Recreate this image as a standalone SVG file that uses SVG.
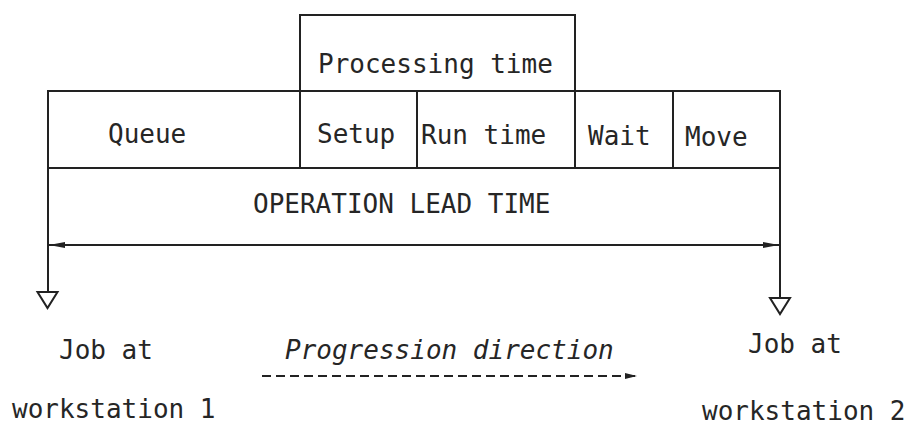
<svg xmlns="http://www.w3.org/2000/svg" width="915" height="427" viewBox="0 0 915 427">
<style>
.ln{stroke:#222;stroke-width:2;fill:none}
.tri{stroke:#222;stroke-width:2;fill:#fff}
.t{font-family:"DejaVu Sans Mono","Liberation Mono",monospace;font-size:26px;fill:#262626}
.it{font-style:italic}
</style>
<defs>
<marker id="ah" viewBox="0 0 16 8" refX="16" refY="4" markerWidth="16" markerHeight="8" markerUnits="userSpaceOnUse" orient="auto">
<path d="M0,1 L16,4 L0,7 Z" fill="#222"/>
</marker>
<marker id="ah2" viewBox="0 0 12 8" refX="12" refY="4" markerWidth="12" markerHeight="8" markerUnits="userSpaceOnUse" orient="auto">
<path d="M0,1 L12,4 L0,7 Z" fill="#222"/>
</marker>
</defs>
<rect width="915" height="427" fill="#fff"/>
<g id="processing">
<rect class="ln" x="300" y="15" width="275" height="76"/>
<text class="t" x="318" y="73">Processing time</text>
</g>
<g id="queue">
<rect class="ln" x="48" y="91" width="252" height="77"/>
<text class="t" x="108" y="143">Queue</text>
</g>
<g id="setup">
<rect class="ln" x="300" y="91" width="117" height="77"/>
<text class="t" x="317" y="143">Setup</text>
</g>
<g id="runtime">
<rect class="ln" x="417" y="91" width="158" height="77"/>
<text class="t" x="421" y="144">Run time</text>
</g>
<g id="wait">
<rect class="ln" x="575" y="91" width="98" height="77"/>
<text class="t" x="588" y="145">Wait</text>
</g>
<g id="move">
<rect class="ln" x="673" y="91" width="107" height="77"/>
<text class="t" x="685" y="146">Move</text>
</g>
<g id="leadtime">
<text class="t" x="253" y="213">OPERATION LEAD TIME</text>
</g>
<g id="ws1">
<polygon class="tri" points="37.5,292 57.5,292 47.5,308"/>
<text class="t" x="59" y="359">Job at</text>
<text class="t" x="12" y="418">workstation 1</text>
</g>
<g id="ws2">
<polygon class="tri" points="770,298 790,298 780,314"/>
<text class="t" x="748" y="353">Job at</text>
<text class="t" x="702" y="420">workstation 2</text>
</g>
<g id="progression">
<text class="t it" x="285" y="359">Progression direction</text>
</g>
<g id="connectors">
<line class="ln" x1="48" y1="168" x2="48" y2="292"/>
<line class="ln" x1="780" y1="168" x2="780" y2="298"/>
<line class="ln" x1="414" y1="245" x2="49" y2="245" marker-end="url(#ah)"/>
<line class="ln" x1="414" y1="245" x2="779" y2="245" marker-end="url(#ah)"/>
<line class="ln" x1="262" y1="376" x2="637" y2="376" stroke-dasharray="9,5" marker-end="url(#ah2)"/>
</g>
</svg>
